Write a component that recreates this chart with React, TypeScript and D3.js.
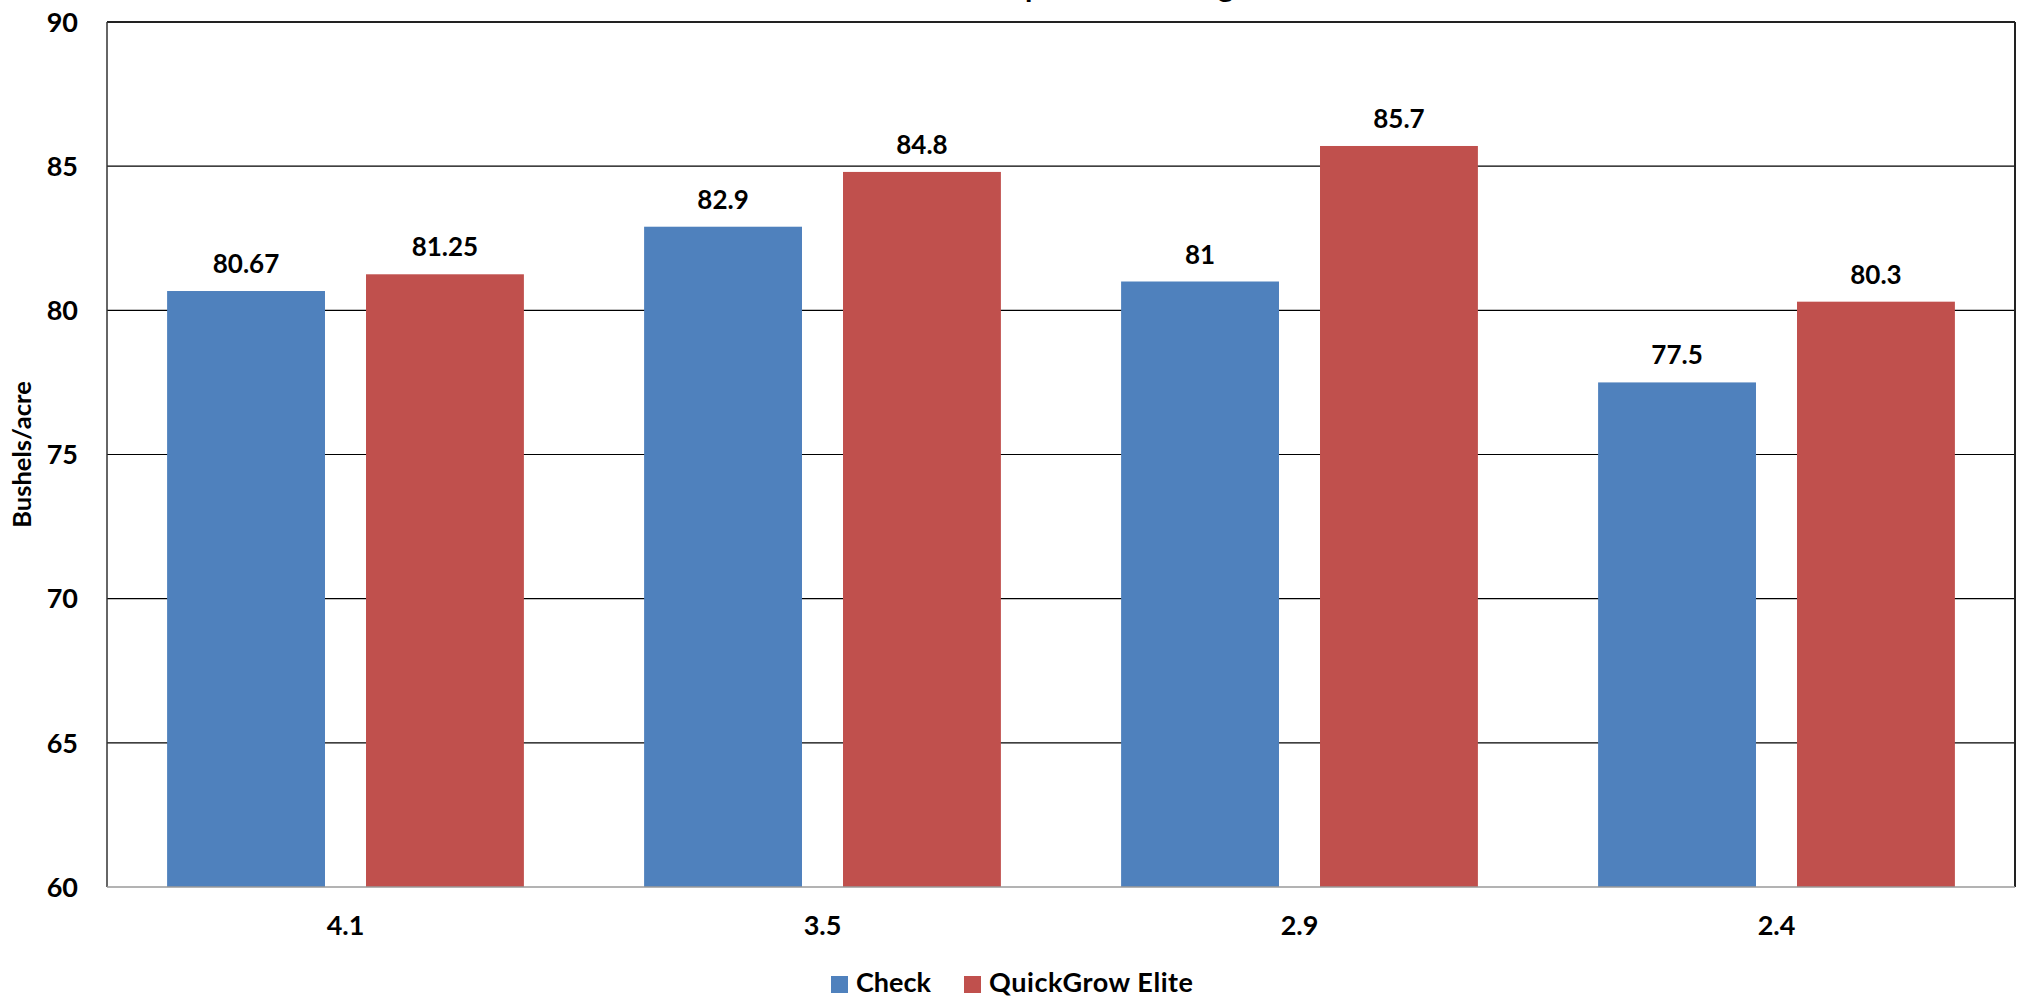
import React from "react";
import * as d3 from "d3";

const categories = ["4.1", "3.5", "2.9", "2.4"];
const seriesNames = ["Check", "QuickGrow Elite"];
const checkValues = [80.67, 82.9, 81, 77.5];
const quickGrowValues = [81.25, 84.8, 85.7, 80.3];
const valueLabels = [
  ["80.67", "82.9", "81", "77.5"],
  ["81.25", "84.8", "85.7", "80.3"],
];
const yTicks = [60, 65, 70, 75, 80, 85, 90];
const colors = ["#4F81BD", "#C0504D"];
const titleText = "Corn Response to Nitrogen Rate";
const yAxisTitle = "Bushels/acre";

const W = 2022;
const H = 1000;
const left = 107;
const right = 2015;
const top = 22;
const bottom = 887;
const FONT = "Lato, 'Open Sans', sans-serif";

export default function App() {
  const x0 = d3.scaleBand<string>().domain(categories).range([left, right]).paddingInner(0).paddingOuter(0);
  const bw = x0.bandwidth();
  const barW = bw * 0.331;
  const gap = bw * 0.086;
  const outer = (bw - 2 * barW - gap) / 2;
  const y = d3.scaleLinear().domain([60, 90]).range([bottom, top]);
  const series = [checkValues, quickGrowValues];

  return (
    <svg width={W} height={H} style={{ position: "absolute", left: 0, top: 0, background: "#fff" }} fontFamily={FONT}>
      <rect x={0} y={0} width={W} height={H} fill="#fff" />
      <text x={1120} y={-3} textAnchor="middle" fontSize={30} fontWeight="bold" fill="#000">{titleText}</text>
      {yTicks.map((t) => (
        <g key={t}>
          {t !== 60 && t !== 90 && (
            <line x1={left} x2={right} y1={y(t)} y2={y(t)} stroke="#000" strokeWidth={1.2} />
          )}
          <text x={left - 29} y={y(t)} dy="0.36em" textAnchor="end" fontSize={27} fontWeight="bold" fill="#000">{t}</text>
        </g>
      ))}
      {series.map((vals, si) =>
        vals.map((v, ci) => {
          const bx = (x0(categories[ci]) as number) + outer + si * (barW + gap);
          const by = y(v);
          return (
            <g key={`${si}-${ci}`}>
              <rect x={bx} y={by} width={barW} height={bottom - by} fill={colors[si]} />
              <text x={bx + barW / 2} y={by - 18} textAnchor="middle" fontSize={26} fontWeight="bold" fill="#000">{valueLabels[si][ci]}</text>
            </g>
          );
        })
      )}
      <line x1={left} x2={right} y1={top} y2={top} stroke="#222" strokeWidth={2} />
      <line x1={right} x2={right} y1={top} y2={bottom} stroke="#222" strokeWidth={2} />
      <line x1={left} x2={left} y1={top} y2={bottom} stroke="#333" strokeWidth={1.5} />
      <line x1={left} x2={right} y1={bottom} y2={bottom} stroke="#9a9a9a" strokeWidth={1.5} />
      {categories.map((c) => (
        <text key={c} x={(x0(c) as number) + bw / 2} y={935} textAnchor="middle" fontSize={27} fontWeight="bold" fill="#000">{c}</text>
      ))}
      <text transform={`translate(31, ${(top + bottom) / 2}) rotate(-90)`} textAnchor="middle" fontSize={25.5} fontWeight="bold" fill="#000">{yAxisTitle}</text>
      <g>
        <rect x={831} y={976} width={17} height={17} fill={colors[0]} />
        <text x={856} y={992} fontSize={27} fontWeight="bold" fill="#000">{seriesNames[0]}</text>
        <rect x={964} y={976} width={17} height={17} fill={colors[1]} />
        <text x={989} y={992} fontSize={27} fontWeight="bold" fill="#000" textLength={204} lengthAdjust="spacing">{seriesNames[1]}</text>
      </g>
    </svg>
  );
}
